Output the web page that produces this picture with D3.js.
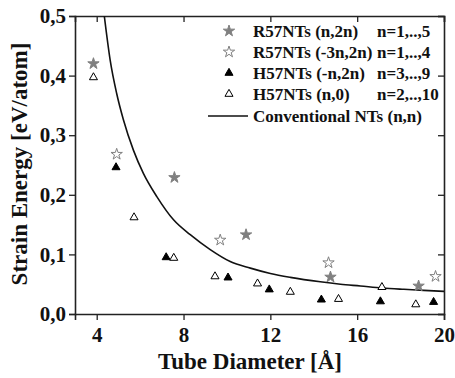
<!DOCTYPE html>
<html>
<head>
<meta charset="utf-8">
<script src="https://cdn.jsdelivr.net/npm/d3@7"></script>
<style>
  body { margin: 0; background: #fff; }
  svg { display: block; }
  text { font-family: "Liberation Serif", "Times New Roman", serif; font-weight: bold; fill: #111; }
</style>
</head>
<body>
<svg id="chart" width="455" height="378"></svg>
<script>
// R57NTs (n,2n), n=1..5  -> filled grey stars
var r57a = [[3.85, 0.420], [7.58, 0.229], [10.88, 0.133], [14.77, 0.062], [18.83, 0.047]];
// R57NTs (-3n,2n), n=1..4 -> open grey stars
var r57b = [[4.92, 0.268], [9.69, 0.124], [14.68, 0.086], [19.61, 0.063]];
// H57NTs (-n,2n), n=3..9 -> filled black triangles
var h57a = [[4.89, 0.246], [7.20, 0.095], [10.05, 0.061], [11.95, 0.041], [14.35, 0.024], [17.07, 0.021], [19.52, 0.020]];
// H57NTs (n,0), n=2..10 -> open triangles
var h57b = [[3.85, 0.397], [5.72, 0.162], [7.55, 0.094], [9.45, 0.063], [11.41, 0.051], [12.92, 0.037], [15.14, 0.025], [17.14, 0.045], [18.70, 0.016]];
// conventional (n,n) tubes
var conv = [[4.35, 0.500], [4.62, 0.426], [4.92, 0.370], [5.23, 0.326], [5.69, 0.275], [6.15, 0.236],
            [6.77, 0.197], [7.54, 0.158], [8.31, 0.133], [9.23, 0.108], [10.15, 0.088], [11.08, 0.077],
            [12.00, 0.068], [12.92, 0.0615], [14.30, 0.054], [15.23, 0.050], [16.15, 0.047], [17.15, 0.0436],
            [18.15, 0.0414], [19.07, 0.0397], [20.00, 0.038]];

var xTicks = [4, 8, 12, 16, 20];
var yTicks = [0, 0.1, 0.2, 0.3, 0.4, 0.5];
var legendLabels = ["R57NTs (n,2n)", "R57NTs (-3n,2n)", "H57NTs (-n,2n)", "H57NTs (n,0)", "Conventional NTs (n,n)"];
var legendRanges = ["n=1,..,5", "n=1,..,4", "n=3,..,9", "n=2,..,10"];

var W = 455, H = 378;
var margin = {top: 16, right: 11, bottom: 64, left: 75};

var svg = d3.select("#chart");

var x = d3.scaleLinear().domain([3, 20]).range([margin.left, W - margin.right]);
var y = d3.scaleLinear().domain([0, 0.5]).range([H - margin.bottom, margin.top]);

var fmt = function(d) { return d3.format(".1f")(d).replace(".", ","); };
var minorX = d3.range(3, 21, 1);
var minorY = d3.range(0, 0.5001, 0.05);

svg.append("clipPath").attr("id", "plot")
    .append("rect")
    .attr("x", margin.left).attr("y", margin.top)
    .attr("width", W - margin.left - margin.right)
    .attr("height", H - margin.top - margin.bottom);

// axes
var gx = svg.append("g").attr("transform", "translate(0," + (H - margin.bottom) + ")");
gx.call(d3.axisBottom(x).tickValues(minorX).tickSize(4).tickFormat(""));
gx.call(d3.axisBottom(x).tickValues(xTicks).tickSize(6).tickPadding(7).tickFormat(d3.format("d")));

var gxt = svg.append("g").attr("transform", "translate(0," + margin.top + ")");
gxt.call(d3.axisBottom(x).tickValues(minorX).tickSize(4).tickFormat(""));
gxt.call(d3.axisBottom(x).tickValues(xTicks).tickSize(6).tickFormat(""));

var gy = svg.append("g").attr("transform", "translate(" + margin.left + ",0)");
gy.call(d3.axisLeft(y).tickValues(minorY).tickSize(4).tickFormat(""));
gy.call(d3.axisLeft(y).tickValues(yTicks).tickSize(6).tickPadding(3).tickFormat(fmt));

var gyr = svg.append("g").attr("transform", "translate(" + (W - margin.right) + ",0)");
gyr.call(d3.axisLeft(y).tickValues(minorY).tickSize(4).tickFormat(""));
gyr.call(d3.axisLeft(y).tickValues(yTicks).tickSize(6).tickFormat(""));

svg.selectAll(".domain").attr("stroke", "#222").attr("stroke-width", 1.6);
svg.selectAll(".tick line").attr("stroke", "#222").attr("stroke-width", 1.3);
svg.selectAll(".tick text").style("font-size", "21px").attr("fill", "#111");

// axis titles
svg.append("text")
    .attr("x", 250).attr("y", 369)
    .attr("text-anchor", "middle")
    .style("font-size", "23px")
    .text("Tube Diameter [\u00C5]");

svg.append("text")
    .attr("transform", "translate(27,164) rotate(-90)")
    .attr("text-anchor", "middle")
    .style("font-size", "23px")
    .text("Strain Energy [eV/atom]");

// curve
var line = d3.line()
    .x(function(d) { return x(d[0]); })
    .y(function(d) { return y(d[1]); })
    .curve(d3.curveMonotoneX);

svg.append("path")
    .datum(conv)
    .attr("clip-path", "url(#plot)")
    .attr("d", line)
    .attr("fill", "none")
    .attr("stroke", "#111")
    .attr("stroke-width", 1.6);

// markers
var series = [
    {data: r57a, type: d3.symbolStar, size: 40, fill: "#808080", stroke: "#808080"},
    {data: r57b, type: d3.symbolStar, size: 40, fill: "#fff", stroke: "#808080"},
    {data: h57a, type: d3.symbolTriangle, size: 28, fill: "#000", stroke: "#000"},
    {data: h57b, type: d3.symbolTriangle, size: 28, fill: "#fff", stroke: "#000"}
];

series.forEach(function(s) {
    svg.append("g").selectAll("path")
        .data(s.data)
        .enter()
        .append("path")
        .attr("transform", function(d) { return "translate(" + x(d[0]) + "," + y(d[1]) + ")"; })
        .attr("d", d3.symbol().type(s.type).size(s.size))
        .attr("fill", s.fill)
        .attr("stroke", s.stroke)
        .attr("stroke-width", 1);
});

// legend
var lg = svg.append("g");
var rowY = [31, 52, 73, 94, 116];
series.forEach(function(s, i) {
    lg.append("path")
        .attr("transform", "translate(229," + rowY[i] + ")")
        .attr("d", d3.symbol().type(s.type).size(s.size))
        .attr("fill", s.fill)
        .attr("stroke", s.stroke)
        .attr("stroke-width", 1);
});
lg.append("line")
    .attr("x1", 208).attr("x2", 248)
    .attr("y1", rowY[4]).attr("y2", rowY[4])
    .attr("stroke", "#111").attr("stroke-width", 1.6);

lg.selectAll("text.lab")
    .data(legendLabels)
    .enter()
    .append("text")
    .attr("class", "lab")
    .attr("x", 253)
    .attr("y", function(d, i) { return rowY[i]; })
    .attr("dy", "0.35em")
    .style("font-size", "17px")
    .text(function(d) { return d; });

lg.selectAll("text.rng")
    .data(legendRanges)
    .enter()
    .append("text")
    .attr("class", "rng")
    .attr("x", 377)
    .attr("y", function(d, i) { return rowY[i]; })
    .attr("dy", "0.35em")
    .style("font-size", "17px")
    .text(function(d) { return d; });
</script>
</body>
</html>
